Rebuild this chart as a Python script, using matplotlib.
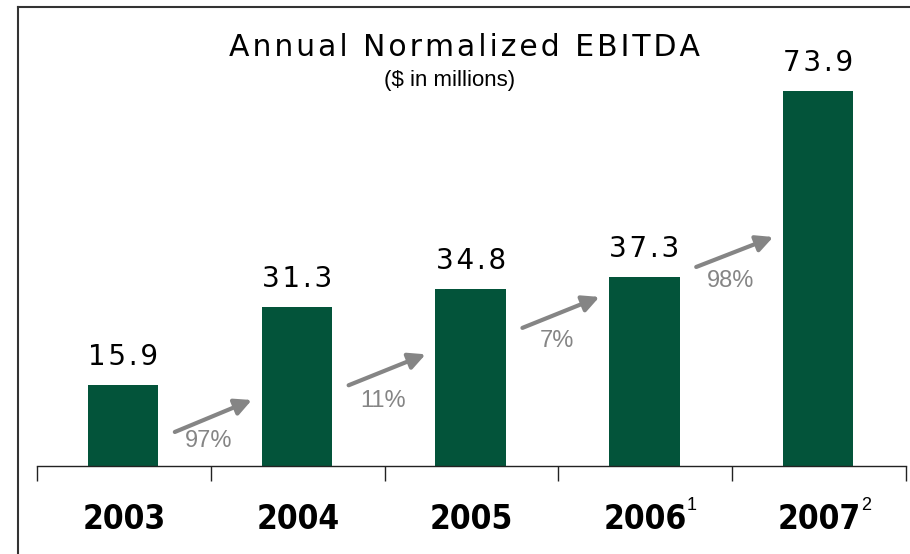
import matplotlib
matplotlib.use('Agg')
import matplotlib.pyplot as plt
from matplotlib.lines import Line2D
import numpy as np

# ----- data ----- #
years = ['2003', '2004', '2005', '2006', '2007']
footnotes = ['', '', '', '1', '2']
ebitda = [15.9, 31.3, 34.8, 37.3, 73.9]
growth = ['97%', '11%', '7%', '98%']
# arrow start/end heights between bars (data units)
arrow_y0 = [6.7, 15.9, 27.2, 39.2]
arrow_y1 = [13.0, 22.0, 33.3, 45.1]
label_y = [4.9, 12.8, 24.6, 36.4]

green = '#03543A'
gray = '#858585'
HS = '\u200a'  # hair space, for the letter-spaced look


def spaced(s):
    return HS.join(s)


fig = plt.figure(figsize=(9.1, 5.54), dpi=100)
ax = fig.add_axes([37 / 910, 88 / 554, 869 / 910, 459 / 554])

x = np.arange(len(years))
bars = ax.bar(x - 0.005, ebitda, width=0.405, color=green)

ax.set_xlim(-0.5, len(years) - 0.5)
ax.set_ylim(0, 90.4)

for sp in ['top', 'right', 'left']:
    ax.spines[sp].set_visible(False)
ax.spines['bottom'].set_color('#222222')
ax.spines['bottom'].set_linewidth(1.0)
ax.set_yticks([])

# ticks at category boundaries, labels at centers
ax.set_xticks(x)
ax.set_xticklabels(years, fontsize=24, fontfamily='DejaVu Sans', fontstretch='condensed',
                   fontweight='bold')
ax.tick_params(axis='x', which='major', length=0, pad=26.5)
ax.set_xticks(np.arange(len(years) + 1) - 0.5, minor=True)
ax.tick_params(axis='x', which='minor', length=11, width=1, color='#222222', direction='out')

# superscripts
for i, fn in enumerate(footnotes):
    if fn:
        ax.annotate(fn, xy=(i, 0), xycoords='data', xytext=(30, -22), textcoords='offset points',
                    ha='left', va='top', fontsize=13, fontfamily='Liberation Sans')

# value labels
for b, v in zip(bars, ebitda):
    ax.annotate(spaced(f'{v:.1f}'), xy=(b.get_x() + b.get_width() / 2, v), xytext=(0, 10),
                textcoords='offset points', ha='center', va='bottom', fontsize=20,
                color='black')

# growth arrows
for i, g in enumerate(growth):
    ax.annotate('', xy=(i + 0.736, arrow_y1[i]), xytext=(i + 0.293, arrow_y0[i]),
                arrowprops=dict(arrowstyle='-|>', color=gray, lw=3, mutation_scale=25,
                                shrinkA=0, shrinkB=0))
    ax.text(i + 0.49, label_y[i], g, ha='center', va='center', fontsize=17,
            color=gray, fontfamily='Liberation Sans')

# titles
fig.text(465 / 910, 1 - 47 / 554, spaced('Annual Normalized EBITDA'), ha='center', va='center',
         fontsize=21.5, color='black')
fig.text(450 / 910, 1 - 80 / 554, '($ in millions)', ha='center', va='center',
         fontsize=16, fontfamily='Liberation Sans', color='black')

# frame lines
fy = 1 - 7 / 554
fx = 18 / 910
fig.add_artist(Line2D([fx, fx], [0, fy], transform=fig.transFigure, color='#333333', lw=1.5))
fig.add_artist(Line2D([fx, 1], [fy, fy], transform=fig.transFigure, color='#333333', lw=1.5))

fig.savefig('out.png', dpi=100)
